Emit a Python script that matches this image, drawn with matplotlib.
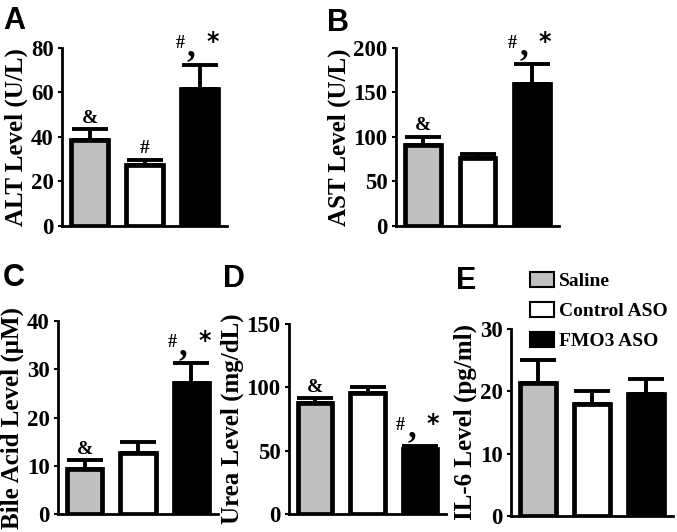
import matplotlib
matplotlib.use("Agg")
import matplotlib.pyplot as plt
from matplotlib.patches import Patch

groups = ["Saline", "Control ASO", "FMO3 ASO"]
colors = ["#c0c0c0", "white", "black"]

alt_mean = [38.5, 27.5, 61.5]
alt_err = [5.0, 2.2, 11.0]
ast_mean = [91, 76, 160]
ast_err = [9, 5, 22]
bile_mean = [9.3, 12.7, 27.2]
bile_err = [1.8, 2.3, 4.0]
urea_mean = [88, 95.5, 51.5]
urea_err = [3.5, 4.5, 2.0]
il6_mean = [21.3, 18.0, 19.5]
il6_err = [3.7, 2.1, 2.4]

# significance marks per bar: '' none, '&', '#', or '#*' (the "#, *" group)
alt_sig = ["&", "#", "#*"]
ast_sig = ["&", "", "#*"]
bile_sig = ["&", "", "#*"]
urea_sig = ["&", "", "#*"]
il6_sig = ["", "", ""]

serif = "Liberation Serif"
plt.rcParams["font.family"] = serif
plt.rcParams["font.weight"] = "bold"

fig = plt.figure(figsize=(6.77, 5.32), dpi=100)


def panel(rect, mean, err, sig, ylim, yticks, ylabel):
    ax = fig.add_axes(rect)
    x = range(len(mean))
    ax.bar(x, mean, width=0.66, color=colors, edgecolor="black", linewidth=3.4, zorder=2)
    ax.errorbar(x, mean, yerr=[[0] * len(err), err], fmt="none", ecolor="black",
                elinewidth=2.8, capsize=13, capthick=2.8, zorder=3)
    ax.set_xlim(-0.5, 2.5)
    ax.set_ylim(*ylim)
    ax.set_yticks(yticks)
    ax.set_xticks([])
    for s in ["top", "right"]:
        ax.spines[s].set_visible(False)
    for s in ["left", "bottom"]:
        ax.spines[s].set_linewidth(2)
    ax.tick_params(axis="y", length=3, width=1.5, pad=3, labelsize=16.5)
    for t in ax.get_yticklabels():
        t.set_fontweight("bold")
    ax.set_ylabel(ylabel, fontsize=18, fontweight="bold", labelpad=2)
    for i, mk in enumerate(sig):
        top = mean[i] + err[i]
        if mk in ("&", "#"):
            ax.annotate(mk, xy=(i, top), xytext=(0, 8), textcoords="offset points",
                        ha="center", va="center", fontsize=14, fontweight="bold")
        elif mk == "#*":
            ax.annotate("#", xy=(i, top), xytext=(-14, 15), textcoords="offset points",
                        ha="center", va="center", fontsize=13, fontweight="bold")
            ax.annotate(",", xy=(i, top), xytext=(-6, 7), textcoords="offset points",
                        ha="center", va="baseline", fontsize=25, fontweight="bold")
            ax.annotate("*", xy=(i, top), xytext=(9.5, 16), textcoords="offset points",
                        ha="center", va="center", fontsize=17, fontweight="bold",
                        family="DejaVu Sans")
    return ax


panel([0.0916, 0.5752, 0.2437, 0.3346], alt_mean, alt_err, alt_sig,
      (0, 80), [0, 20, 40, 60, 80], "ALT Level (U/L)")
panel([0.585, 0.5752, 0.2408, 0.3346], ast_mean, ast_err, ast_sig,
      (0, 200), [0, 50, 100, 150, 200], "AST Level (U/L)")
panel([0.0857, 0.0338, 0.2363, 0.3628], bile_mean, bile_err, bile_sig,
      (0, 40), [0, 10, 20, 30, 40], "Bile Acid Level (\u03bcM)")
panel([0.4269, 0.0338, 0.232, 0.357], urea_mean, urea_err, urea_sig,
      (0, 150), [0, 50, 100, 150], "Urea Level (mg/dL)")
panel([0.7548, 0.0301, 0.2393, 0.3515], il6_mean, il6_err, il6_sig,
      (0, 30), [0, 10, 20, 30], "IL-6 Level (pg/ml)")

letters = [("A", 3, 6), ("B", 327, 8), ("C", 3, 263), ("D", 223, 264), ("E", 456, 266)]
for txt, px, py in letters:
    fig.text(px / 677, 1 - py / 532, txt, fontsize=22, fontweight="bold",
             family="Liberation Sans", ha="left", va="top")

handles = [Patch(facecolor=c, edgecolor="black", linewidth=1.5) for c in colors]
fig.legend(handles, groups, loc="upper left", bbox_to_anchor=(530 / 677, 1 - 272 / 532),
           frameon=False, prop={"family": serif, "weight": "bold", "size": 14},
           handlelength=1.25, handleheight=0.8, handletextpad=0.25,
           labelspacing=0.6, borderpad=0, borderaxespad=0)

fig.savefig("out.png", dpi=100)
